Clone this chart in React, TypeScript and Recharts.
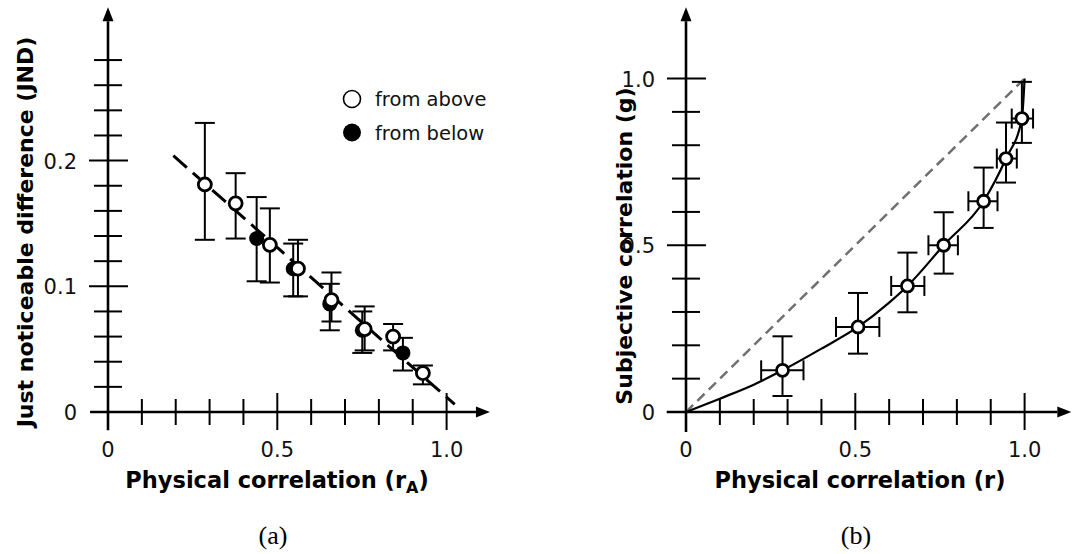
import React from 'react';
import { ComposedChart, XAxis, YAxis, Line, Scatter, ErrorBar, ReferenceLine, Legend, Label } from 'recharts';

const FONT = 'DejaVu Sans';

// (a) JND against physical correlation r_A
const ABOVE_R = [0.286, 0.377, 0.478, 0.561, 0.66, 0.758, 0.842, 0.93];
const ABOVE_JND = [0.181, 0.166, 0.133, 0.114, 0.089, 0.066, 0.06, 0.031];
const ABOVE_LO = [0.137, 0.138, 0.103, 0.092, 0.072, 0.049, 0.049, 0.022];
const ABOVE_HI = [0.23, 0.19, 0.162, 0.137, 0.111, 0.084, 0.07, 0.037];

const BELOW_R = [0.439, 0.547, 0.655, 0.751, 0.871];
const BELOW_JND = [0.138, 0.114, 0.086, 0.065, 0.047];
const BELOW_LO = [0.104, 0.092, 0.065, 0.047, 0.033];
const BELOW_HI = [0.171, 0.134, 0.102, 0.08, 0.059];

const JND_FIT_R = [0.193, 1.024];
const JND_FIT = [0.204, 0.006];

const LEFT_X_TICKS = [0, 0.1, 0.2, 0.3, 0.4, 0.5, 0.6, 0.7, 0.8, 0.9, 1.0];
const LEFT_Y_TICKS = [0, 0.02, 0.04, 0.06, 0.08, 0.1, 0.12, 0.14, 0.16, 0.18, 0.2, 0.22, 0.24, 0.26, 0.28];
const LEGEND_LABELS = ['from above', 'from below'];

// (b) subjective vs physical correlation
const R_VALS = [0.285, 0.508, 0.654, 0.761, 0.879, 0.945, 0.992];
const R_LO = [0.222, 0.443, 0.606, 0.716, 0.834, 0.918, 0.962];
const R_HI = [0.347, 0.571, 0.704, 0.803, 0.92, 0.977, 1.025];
const G_VALS = [0.125, 0.255, 0.378, 0.5, 0.632, 0.76, 0.88];
const G_LO = [0.048, 0.175, 0.299, 0.415, 0.552, 0.688, 0.807];
const G_HI = [0.227, 0.357, 0.478, 0.599, 0.733, 0.868, 0.99];

const FIT_R = [0, 0.1, 0.2, 0.285, 0.4, 0.508, 0.6, 0.654, 0.761, 0.879, 0.945, 0.992, 1.0];
const FIT_G = [0, 0.04, 0.082, 0.125, 0.19, 0.255, 0.328, 0.378, 0.5, 0.632, 0.76, 0.88, 1.0];
const DIAG = [0, 1];

const RIGHT_TICKS = [0, 0.1, 0.2, 0.3, 0.4, 0.5, 0.6, 0.7, 0.8, 0.9, 1.0];

const aboveData = ABOVE_R.map((r, i) => ({
  x: r, y: ABOVE_JND[i], ey: [ABOVE_JND[i] - ABOVE_LO[i], ABOVE_HI[i] - ABOVE_JND[i]],
}));
const belowData = BELOW_R.map((r, i) => ({
  x: r, y: BELOW_JND[i], ey: [BELOW_JND[i] - BELOW_LO[i], BELOW_HI[i] - BELOW_JND[i]],
}));
const jndFit = JND_FIT_R.map((r, i) => ({ x: r, y: JND_FIT[i] }));

const gData = R_VALS.map((r, i) => ({
  x: r,
  y: G_VALS[i],
  ey: [G_VALS[i] - G_LO[i], G_HI[i] - G_VALS[i]],
  ex: [r - R_LO[i], R_HI[i] - r],
}));
const gFit = FIT_R.map((r, i) => ({ x: r, y: FIT_G[i] }));
const diag = DIAG.map((v) => ({ x: v, y: v }));

const fmt = (v: number) => (v === 0 ? '0' : v.toFixed(1));

// axis line with an arrow head at the far end
const ArrowAxis = (props: any) => {
  const { x1, y1, x2, y2 } = props;
  const len = Math.hypot(x2 - x1, y2 - y1) || 1;
  const ux = (x2 - x1) / len;
  const uy = (y2 - y1) / len;
  const bx = x2 - ux * 14;
  const by = y2 - uy * 14;
  return (
    <g>
      <line x1={x1} y1={y1} x2={bx} y2={by} stroke="#000" strokeWidth={2.6} />
      <polygon
        points={`${x2},${y2} ${bx - uy * 5.5},${by + ux * 5.5} ${bx + uy * 5.5},${by - ux * 5.5}`}
        fill="#000"
      />
    </g>
  );
};

// ticks cross the axis line; longer ones on the labelled positions
const makeXTick = (majors: number[], labels: number[]) => (props: any) => {
  const { x, y, payload } = props;
  const v = payload.value;
  const major = majors.includes(v);
  return (
    <g>
      <line x1={x} x2={x} y1={y - (major ? 19 : 13)} y2={y + (major ? 18 : 13)} stroke="#000" strokeWidth={2} />
      {labels.includes(v) && (
        <text x={x} y={y + 45} textAnchor="middle" fontFamily={FONT} fontSize={21} fill="#111">
          {fmt(v)}
        </text>
      )}
    </g>
  );
};

const makeYTick = (majors: number[], labels: number[]) => (props: any) => {
  const { x, y, payload } = props;
  const v = payload.value;
  const major = majors.includes(v);
  return (
    <g>
      <line x1={x - (major ? 19 : 14)} x2={x + (major ? 20 : 14)} y1={y} y2={y} stroke="#000" strokeWidth={2} />
      {labels.includes(v) && (
        <text x={x - 31} y={y + 8} textAnchor="end" fontFamily={FONT} fontSize={21} fill="#111">
          {fmt(v)}
        </text>
      )}
    </g>
  );
};

const openDot = (r: number) => (p: any) => (
  <circle cx={p.cx} cy={p.cy} r={r} fill="#fff" stroke="#000" strokeWidth={2.8} />
);
const filledDot = (p: any) => <circle cx={p.cx} cy={p.cy} r={7.5} fill="#000" />;

const xTitle = (cx: number, caption: string, sub?: string) => () => (
  <g>
    <text x={cx} y={488} textAnchor="middle" fontFamily={FONT} fontWeight="bold" fontSize={22.5} fill="#000">
      {'Physical correlation (r'}
      {sub && (
        <tspan fontSize={16} dy={5}>
          {sub}
        </tspan>
      )}
      <tspan dy={sub ? -5 : 0}>)</tspan>
    </text>
    <text x={cx - 4} y={544} textAnchor="middle" fontFamily="Liberation Serif" fontSize={26} fill="#000">
      {caption}
    </text>
  </g>
);

const yTitle = (x: number, y: number, text: string) => () => (
  <text
    transform={`translate(${x},${y}) rotate(-90)`}
    textAnchor="middle"
    fontFamily={FONT}
    fontWeight="bold"
    fontSize={22}
    fill="#000"
  >
    {text}
  </text>
);

const JndLegend = () => (
  <svg width={170} height={64}>
    {LEGEND_LABELS.map((label, i) => (
      <g key={label}>
        {i === 0 ? (
          <circle cx={12} cy={13 + i * 33.5} r={8.5} fill="#fff" stroke="#000" strokeWidth={1.6} />
        ) : (
          <circle cx={12} cy={13 + i * 33.5} r={9} fill="#000" />
        )}
        <text x={35} y={20 + i * 33.5} fontFamily={FONT} fontSize={19.5} fill="#111">
          {label}
        </text>
      </g>
    ))}
  </svg>
);

export default function App() {
  return (
    <div style={{ position: 'absolute', left: 0, top: 0, width: 1072, height: 554, background: '#fff' }}>
      <div style={{ position: 'absolute', left: 0, top: 0 }}>
        <ComposedChart width={500} height={554} margin={{ top: 3.5, right: 6, bottom: 0, left: 0 }}>
          <XAxis
            type="number"
            dataKey="x"
            domain={[0, 1.14]}
            ticks={LEFT_X_TICKS}
            interval={0}
            axisLine={false}
            tickLine={false}
            tickSize={0}
            tickMargin={0}
            height={142}
            tick={makeXTick([0.5, 1.0], [0, 0.5, 1.0])}
            label={<Label content={xTitle(277, '(a)', 'A')} />}
          />
          <YAxis
            type="number"
            domain={[0, 0.325]}
            ticks={LEFT_Y_TICKS}
            interval={0}
            axisLine={false}
            tickLine={false}
            tickSize={0}
            tickMargin={0}
            width={108}
            tick={makeYTick([0.1, 0.2], [0, 0.1, 0.2])}
            label={<Label content={yTitle(33, 232, 'Just noticeable difference (JND)')} />}
          />
          <ReferenceLine segment={[{ x: -0.053, y: 0 }, { x: 1.128, y: 0 }]} ifOverflow="visible" shape={ArrowAxis} />
          <ReferenceLine segment={[{ x: 0, y: -0.0145 }, { x: 0, y: 0.322 }]} ifOverflow="visible" shape={ArrowAxis} />
          <Line
            data={jndFit}
            dataKey="y"
            type="linear"
            stroke="#000"
            strokeWidth={3}
            strokeDasharray="18 8"
            dot={false}
            isAnimationActive={false}
          />
          <Scatter data={belowData} dataKey="y" shape={filledDot} isAnimationActive={false}>
            <ErrorBar dataKey="ey" direction="y" width={10} stroke="#000" strokeWidth={2} isAnimationActive={false} />
          </Scatter>
          <Scatter data={aboveData} dataKey="y" shape={openDot(6.5)} isAnimationActive={false}>
            <ErrorBar dataKey="ey" direction="y" width={10} stroke="#000" strokeWidth={2} isAnimationActive={false} />
          </Scatter>
          <Legend
            layout="vertical"
            align="center"
            verticalAlign="middle"
            content={JndLegend}
            wrapperStyle={{ left: 340, top: 86, width: 170 }}
          />
        </ComposedChart>
      </div>
      <div style={{ position: 'absolute', left: 560, top: 0 }}>
        <ComposedChart width={512} height={554} margin={{ top: 3.5, right: 0, bottom: 0, left: 0 }}>
          <XAxis
            type="number"
            dataKey="x"
            domain={[0, 1.14]}
            ticks={RIGHT_TICKS}
            interval={0}
            axisLine={false}
            tickLine={false}
            tickSize={0}
            tickMargin={0}
            height={142}
            tick={makeXTick([0.5, 1.0], [0, 0.5, 1.0])}
            label={<Label content={xTitle(300, '(b)')} />}
          />
          <YAxis
            type="number"
            domain={[0, 1.225]}
            ticks={RIGHT_TICKS}
            interval={0}
            axisLine={false}
            tickLine={false}
            tickSize={0}
            tickMargin={0}
            width={126}
            tick={makeYTick([0.5, 1.0], [0, 0.5, 1.0])}
            label={<Label content={yTitle(72, 246, 'Subjective correlation (g)')} />}
          />
          <ReferenceLine segment={[{ x: -0.057, y: 0 }, { x: 1.138, y: 0 }]} ifOverflow="visible" shape={ArrowAxis} />
          <ReferenceLine segment={[{ x: 0, y: -0.06 }, { x: 0, y: 1.214 }]} ifOverflow="visible" shape={ArrowAxis} />
          <Line
            data={diag}
            dataKey="y"
            type="linear"
            stroke="#707070"
            strokeWidth={2.5}
            strokeDasharray="10 6"
            dot={false}
            isAnimationActive={false}
          />
          <Line
            data={gFit}
            dataKey="y"
            type="monotone"
            stroke="#000"
            strokeWidth={2.2}
            dot={false}
            isAnimationActive={false}
          />
          <Scatter data={gData} dataKey="y" shape={openDot(6)} isAnimationActive={false}>
            <ErrorBar dataKey="ey" direction="y" width={10} stroke="#000" strokeWidth={2} isAnimationActive={false} />
            <ErrorBar dataKey="ex" direction="x" width={10} stroke="#000" strokeWidth={2} isAnimationActive={false} />
          </Scatter>
        </ComposedChart>
      </div>
    </div>
  );
}
